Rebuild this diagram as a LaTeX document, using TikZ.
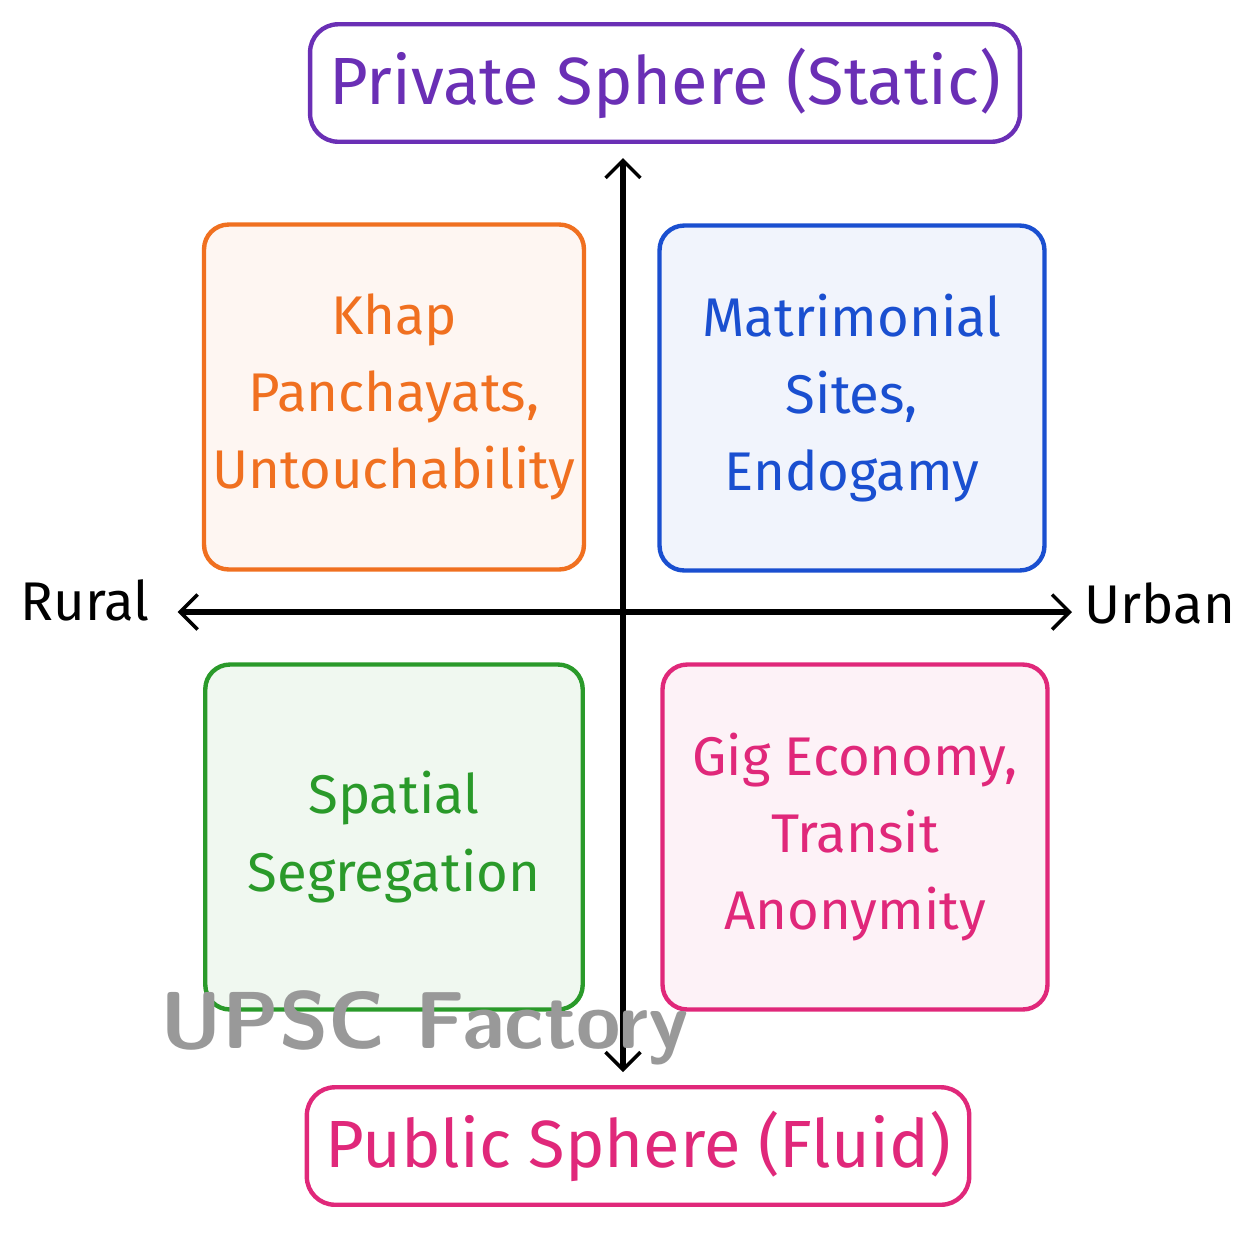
\documentclass[tikz,border=0pt]{standalone}
\usepackage{fontspec}
\setmainfont{Fira Sans}
\usetikzlibrary{arrows.meta,positioning}
\definecolor{purp}{HTML}{6A2FB5}
\definecolor{orng}{HTML}{F07020}
\definecolor{blu}{HTML}{1A4FD0}
\definecolor{grn}{HTML}{2A9A2A}
\definecolor{pnk}{HTML}{E0287A}
\tikzset{x=0.02cm, y=-0.02cm, >={Straight Barb[length=3.5mm,width=7mm,line width=2pt]},
  font=\fontsize{31}{44}\selectfont}
\tikzstyle{quad} = [draw, rounded corners=14pt, line width=2.5pt, minimum width=7.6cm, minimum height=6.9cm, align=center]
\tikzstyle{sphere} = [draw, rounded corners=16pt, line width=2.5pt, minimum height=2.35cm, font=\fontsize{38}{40}\selectfont]
\tikzstyle{axis} = [font=\fontsize{31}{33}\selectfont]
\begin{document}
\begin{tikzpicture}
	\useasboundingbox (0,0) rectangle (1247,1235);
	\node [sphere, draw=purp, text=purp, fill=white, minimum width=14.2cm] (private) at (665,83) {Private Sphere (Static)};
	\node [sphere, draw=pnk, text=pnk, fill=white, minimum width=13.25cm] (public) at (638,1146) {Public Sphere (Fluid)};

	\node [quad, draw=orng, fill=orng!6, text=orng] (khap) at (394,397) {Khap\\Panchayats,\\Untouchability};
	\node [quad, draw=blu, fill=blu!6, text=blu, minimum width=7.7cm] (matri) at (852,398) {Matrimonial\\Sites,\\Endogamy};
	\node [quad, draw=grn, fill=grn!7, text=grn, minimum width=7.55cm] (spatial) at (394,837) {Spatial\\Segregation};
	\node [quad, draw=pnk, fill=pnk!6, text=pnk, minimum width=7.7cm] (gig) at (855,837) {Gig Economy,\\Transit\\Anonymity};

	\node [axis] (rural) at (85,600) {Rural};
	\node [axis] (urban) at (1160,603) {Urban};
	\coordinate (top) at (623,158);
	\coordinate (bottom) at (623,1072);
	\draw [<->, line width=3pt] (bottom) -- (top);
	\draw [<->, line width=3pt] (rural.east) ++(22,12) coordinate (left) -- (1072,612) coordinate (right);

	\node [text=black!40, font=\sffamily\bfseries\fontsize{46}{48}\selectfont] (mark) at (425,1028) {UPSC Factory};
\end{tikzpicture}
\end{document}
